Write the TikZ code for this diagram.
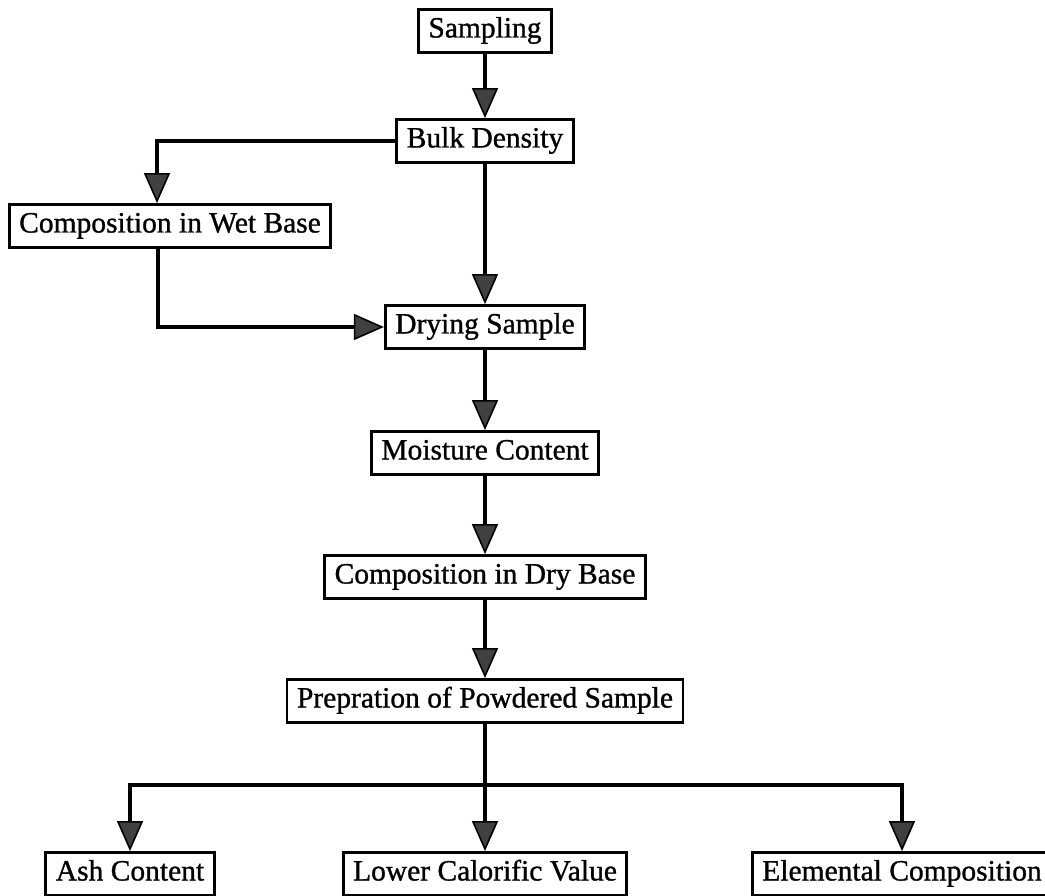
\documentclass[tikz,border=0pt]{standalone}
\usepackage{fontspec}
\setmainfont{Liberation Serif}
\newfontfamily\scanfont{Liberation Serif}[FakeBold=1]
\usepackage{tikz}
\usetikzlibrary{arrows.meta, positioning}
\tikzstyle{stage}=[draw, line width=2.8pt, inner xsep=10pt, inner ysep=8pt, text height=20pt, text depth=7pt, font=\scanfont\fontsize{29.5}{34}\selectfont]
\tikzstyle{flowArrow}=[line width=3.4pt, -{Triangle[width=26pt,length=30pt,fill=black!75,line width=1.6pt]}]

\begin{document}
\begin{tikzpicture}[x=1pt, y=-1pt]
    % \draw ;
    \useasboundingbox[fill=white] (0,0) rectangle (1045,896);

    \node (sampling)[stage] at (485, 31) {Sampling};
    \node (bulk)[stage] at (485, 141) {Bulk Density};
    \node (wet)[stage] at (170, 226) {Composition in Wet Base};
    \node (drying)[stage] at (485, 327) {Drying Sample};
    \node (moisture)[stage] at (485, 453) {Moisture Content};
    \node (dry)[stage] at (485, 577) {Composition in Dry Base};
    \node (powder)[stage] at (485, 701) {Prepration of Powdered Sample};

    \node (ash)[stage] at (130, 874) {Ash Content};
    \node (lcv)[stage] at (485, 874) {Lower Calorific Value};
    \node (elem)[stage] at (902, 874) {Elemental Composition};
    \coordinate (split) at (485, 785);

    \draw[flowArrow] (sampling) -- (bulk);
    \draw[flowArrow] (bulk.west) -| ([xshift=-13pt]wet.north);
    \draw[flowArrow] (bulk) -- (drying);
    \draw[flowArrow] ([xshift=-12pt]wet.south) |- (drying.west);
    \draw[flowArrow] (drying) -- (moisture);
    \draw[flowArrow] (moisture) -- (dry);
    \draw[flowArrow] (dry) -- (powder);
    \draw[flowArrow] (powder) -- (lcv);
    \draw[flowArrow] (split) -| (ash);
    \draw[flowArrow] (split) -| (elem);

\end{tikzpicture}
\end{document}
